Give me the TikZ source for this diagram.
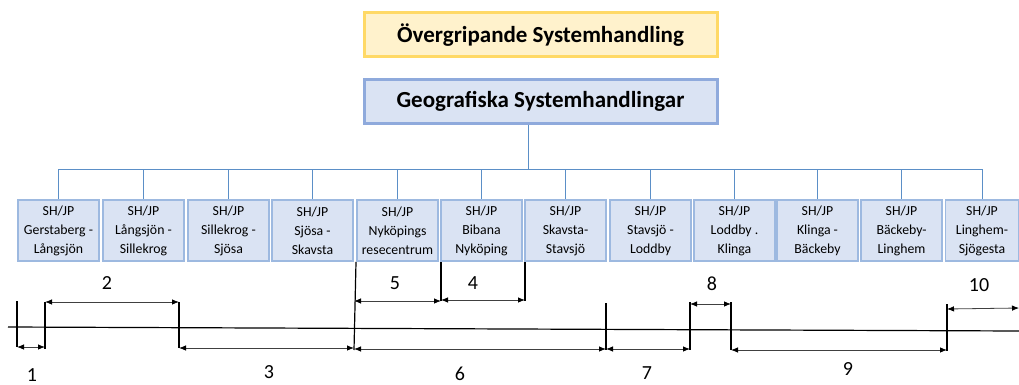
\documentclass[tikz,border=0pt]{standalone}
\usepackage{fontspec}
\setmainfont{Carlito}
\usetikzlibrary{arrows.meta}
\definecolor{ybfill}{HTML}{FFF2CC}
\definecolor{ybdraw}{HTML}{FFD966}
\definecolor{bbfill}{HTML}{DAE3F3}
\definecolor{bbdraw}{HTML}{8FAADC}
\definecolor{sbdraw}{HTML}{9DB9E0}
\definecolor{conn}{HTML}{5B8FC7}
\definecolor{dimline}{HTML}{404040}
\begin{document}
\begin{tikzpicture}[x=1pt,y=-1pt,
  titlebox/.style={draw=#1, line width=3pt, minimum width=353pt, minimum height=44pt, inner sep=0pt, font=\fontsize{23}{27}\selectfont\bfseries},
  subbox/.style={draw=sbdraw, fill=bbfill, line width=1.6pt, minimum height=61pt, inner sep=0pt, align=center, font=\fontsize{13.8}{19}\selectfont},
  conline/.style={draw=conn, line width=0.9pt},
  tick/.style={draw=black, line width=1.2pt},
  dim/.style={draw=dimline, line width=0.8pt, {Latex[length=7pt,width=5.5pt,color=black]}-{Latex[length=7pt,width=5.5pt,color=black]}},
  numlab/.style={font=\fontsize{20}{24}\selectfont, inner sep=0pt}
]
\useasboundingbox (0,0) rectangle (1019,385);

\node[titlebox=ybdraw, fill=ybfill] (top) at (540.5,35) {Övergripande Systemhandling};
\node[titlebox=bbdraw, fill=bbfill] (geo) at (540.5,101.5) {Geografiska Systemhandlingar};

\node[subbox, minimum width=81pt] (b1) at (58.5,230.5) {SH/JP\\Gerstaberg -\\Långsjön};
\node[subbox, minimum width=81pt] (b2) at (143.5,230.5) {SH/JP\\Långsjön -\\Sillekrog};
\node[subbox, minimum width=81pt] (b3) at (228.5,230.5) {SH/JP\\Sillekrog -\\Sjösa};
\node[subbox, minimum width=81pt] (b4) at (312.5,230.5) {SH/JP\\Sjösa -\\Skavsta};
\node[subbox, minimum width=81pt] (b5) at (397.5,230.5) {SH/JP\\Nyköpings\\resecentrum};
\node[subbox, minimum width=81pt] (b6) at (481.5,230.5) {SH/JP\\Bibana\\Nyköping};
\node[subbox, minimum width=81pt] (b7) at (565.5,230.5) {SH/JP\\Skavsta-\\Stavsjö};
\node[subbox, minimum width=81pt] (b8) at (650.5,230.5) {SH/JP\\Stavsjö -\\Loddby};
\node[subbox, minimum width=81pt] (b9) at (734.5,230.5) {SH/JP\\Loddby .\\Klinga};
\node[subbox, minimum width=81pt] (b10) at (817.5,230.5) {SH/JP\\Klinga -\\Bäckeby};
\node[subbox, minimum width=81pt] (b11) at (901.5,230.5) {SH/JP\\Bäckeby-\\Linghem};
\node[subbox, minimum width=73pt] (b12) at (982,230.5) {SH/JP\\Linghem-\\Sjögesta};

% org connectors
\coordinate (bus) at (528,169);
\draw[conline] (geo.south -| bus) -- (bus);
\draw[conline] (b1.north |- bus) -- (b12.north |- bus);
\foreach \i in {1,...,12}{
  \draw[conline] (b\i.north |- bus) -- (b\i.north);
}

% timeline
\coordinate (lineL) at (8,327);
\coordinate (lineR) at (1019,331);
\draw[tick] (lineL) -- (lineR);

\coordinate (tAt) at (17,301);  \coordinate (tAb) at (17,347);
\coordinate (tBt) at (45,302);  \coordinate (tBb) at (45,349);
\coordinate (tCt) at (179,302); \coordinate (tCb) at (179,348);
\coordinate (tDt) at (356,262); \coordinate (tDb) at (354,350);
\coordinate (tEt) at (441,262); \coordinate (tEb) at (441,301);
\coordinate (tFt) at (525,262); \coordinate (tFb) at (525,301);
\coordinate (tGt) at (606,303); \coordinate (tGb) at (606,350);
\coordinate (tHt) at (690,302); \coordinate (tHb) at (690,350);
\coordinate (tIt) at (731,302); \coordinate (tIb) at (731,350);
\coordinate (tJt) at (947,304); \coordinate (tJb) at (947,351);
\foreach \t in {A,B,C,D,E,F,G,H,I,J}{
  \draw[tick] (t\t t) -- (t\t b);
}

\coordinate (a1l) at (17,347);  \coordinate (a1r) at (45,347);
\coordinate (a2l) at (45,302);  \coordinate (a2r) at (179,302);
\coordinate (a3l) at (179,348); \coordinate (a3r) at (354,348);
\coordinate (a5l) at (354,301); \coordinate (a5r) at (441,301);
\coordinate (a4l) at (441,300); \coordinate (a4r) at (525,300);
\coordinate (a6l) at (354,349); \coordinate (a6r) at (606,349);
\coordinate (a7l) at (606,349); \coordinate (a7r) at (690,349);
\coordinate (a8l) at (690,304); \coordinate (a8r) at (731,304);
\coordinate (a9l) at (731,350); \coordinate (a9r) at (947,350);
\coordinate (a10l) at (947,309); \coordinate (a10r) at (1019,308);
\foreach \a in {1,...,10}{
  \draw[dim] (a\a l) -- (a\a r);
}

\node[numlab] (n1) at (32,375) {1};
\node[numlab] (n2) at (107,283) {2};
\node[numlab] (n3) at (269,372) {3};
\node[numlab] (n5) at (395,283) {5};
\node[numlab] (n4) at (473,283) {4};
\node[numlab] (n6) at (460,374) {6};
\node[numlab] (n7) at (647,373) {7};
\node[numlab] (n8) at (712,284) {8};
\node[numlab] (n9) at (848,369) {9};
\node[numlab] (n10) at (979,285) {10};
\end{tikzpicture}
\end{document}
